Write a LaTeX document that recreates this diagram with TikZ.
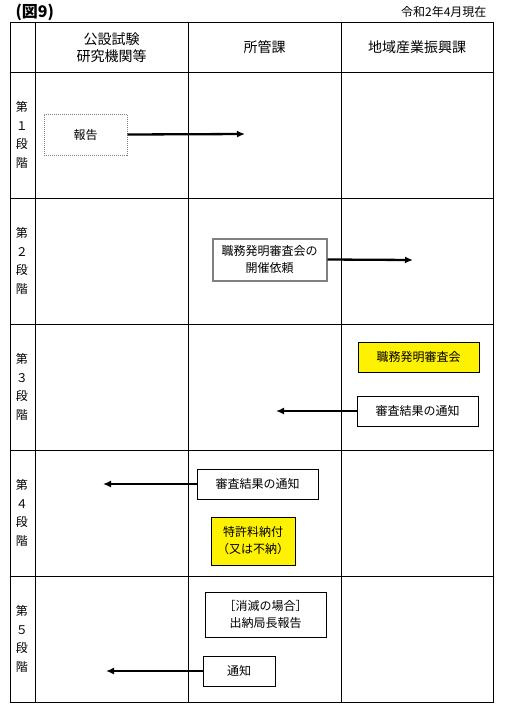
\documentclass[tikz,border=0pt]{standalone}
\usepackage{fontspec}
\setmainfont{Noto Sans CJK JP}
\usetikzlibrary{arrows.meta}
\tikzset{
	box/.style={draw,line width=1pt,fill=white,align=center,inner sep=0pt,font=\fontsize{12}{17}\selectfont},
	kiiro/.style={box,fill=yellow},
	yajirushi/.style={line width=2.3pt,-{Latex[length=8pt,width=7pt]}},
	dankai/.style={align=center,font=\fontsize{12}{18.5}\selectfont},
	midashi/.style={align=center,font=\fontsize{14}{17}\selectfont}
}
\begin{document}
\begin{tikzpicture}[x=1pt,y=-1pt]
		\useasboundingbox (0,0) rectangle (504,721);
		% table
		\draw[line width=1pt] (10,22) rectangle (493,702);
		\foreach \k in {35,188,341}{
			\draw[line width=1pt] (\k,22) to (\k,702); }
		\foreach \k in {72,198,324,450,576}{
			\draw[line width=1pt] (10,\k) to (493,\k); }
		
		\node[font=\fontsize{16}{16}\selectfont\bfseries,anchor=west] (zu) at (12,12) {(図9)};
		\node[font=\fontsize{12}{12}\selectfont,anchor=east] (genzai) at (490,12) {令和2年4月現在};
		
		% column heads
		\node[midashi] (kikan) at (111.5,48) {公設試験\\研究機関等};
		\node[midashi] (shokan) at (264.5,47) {所管課};
		\node[midashi] (chiiki) at (417,47) {地域産業振興課};
		
		% stages
		\foreach \n/\y in {１/135,２/261,３/387,４/513,５/639}{
			\node[dankai] at (22,\y) {第\\\n\\段\\階}; }
		
		% stage 1
		\node[box,draw=gray,densely dotted,minimum width=83pt,minimum height=41pt] (hokoku) at (85.5,134.5) {報告};
		\coordinate (p1) at (245,134);
		\draw[yajirushi] (hokoku.east) -- (p1);
		
		% stage 2
		\node[box,draw=black!50,line width=2pt,minimum width=114pt,minimum height=42pt] (irai) at (269.5,259.5) {職務発明審査会の\\開催依頼};
		\coordinate (p2) at (413,260);
		\draw[yajirushi] (irai.east) -- (p2);
		
		% stage 3
		\node[kiiro,minimum width=121pt,minimum height=30pt] (shinsakai) at (418.5,357) {職務発明審査会};
		\node[box,minimum width=121pt,minimum height=30pt] (tsuchi3) at (417.5,411) {審査結果の通知};
		\coordinate (p3) at (276,411);
		\draw[yajirushi] (tsuchi3.west) -- (p3);
		
		% stage 4
		\node[box,minimum width=121pt,minimum height=30pt] (tsuchi4) at (257.5,484) {審査結果の通知};
		\coordinate (p4) at (103,484);
		\draw[yajirushi] (tsuchi4.west) -- (p4);
		\node[kiiro,minimum width=84pt,minimum height=48pt] (nofu) at (253,541) {特許料納付\\（又は不納）};
		
		% stage 5
		\node[box,minimum width=121pt,minimum height=45pt] (shometsu) at (265.5,614.5) {［消滅の場合］\\出納局長報告};
		\node[box,minimum width=72pt,minimum height=30pt] (tsuchi5) at (239,671) {通知};
		\coordinate (p5) at (106,671);
		\draw[yajirushi] (tsuchi5.west) -- (p5);
		
	\end{tikzpicture}
\end{document}
